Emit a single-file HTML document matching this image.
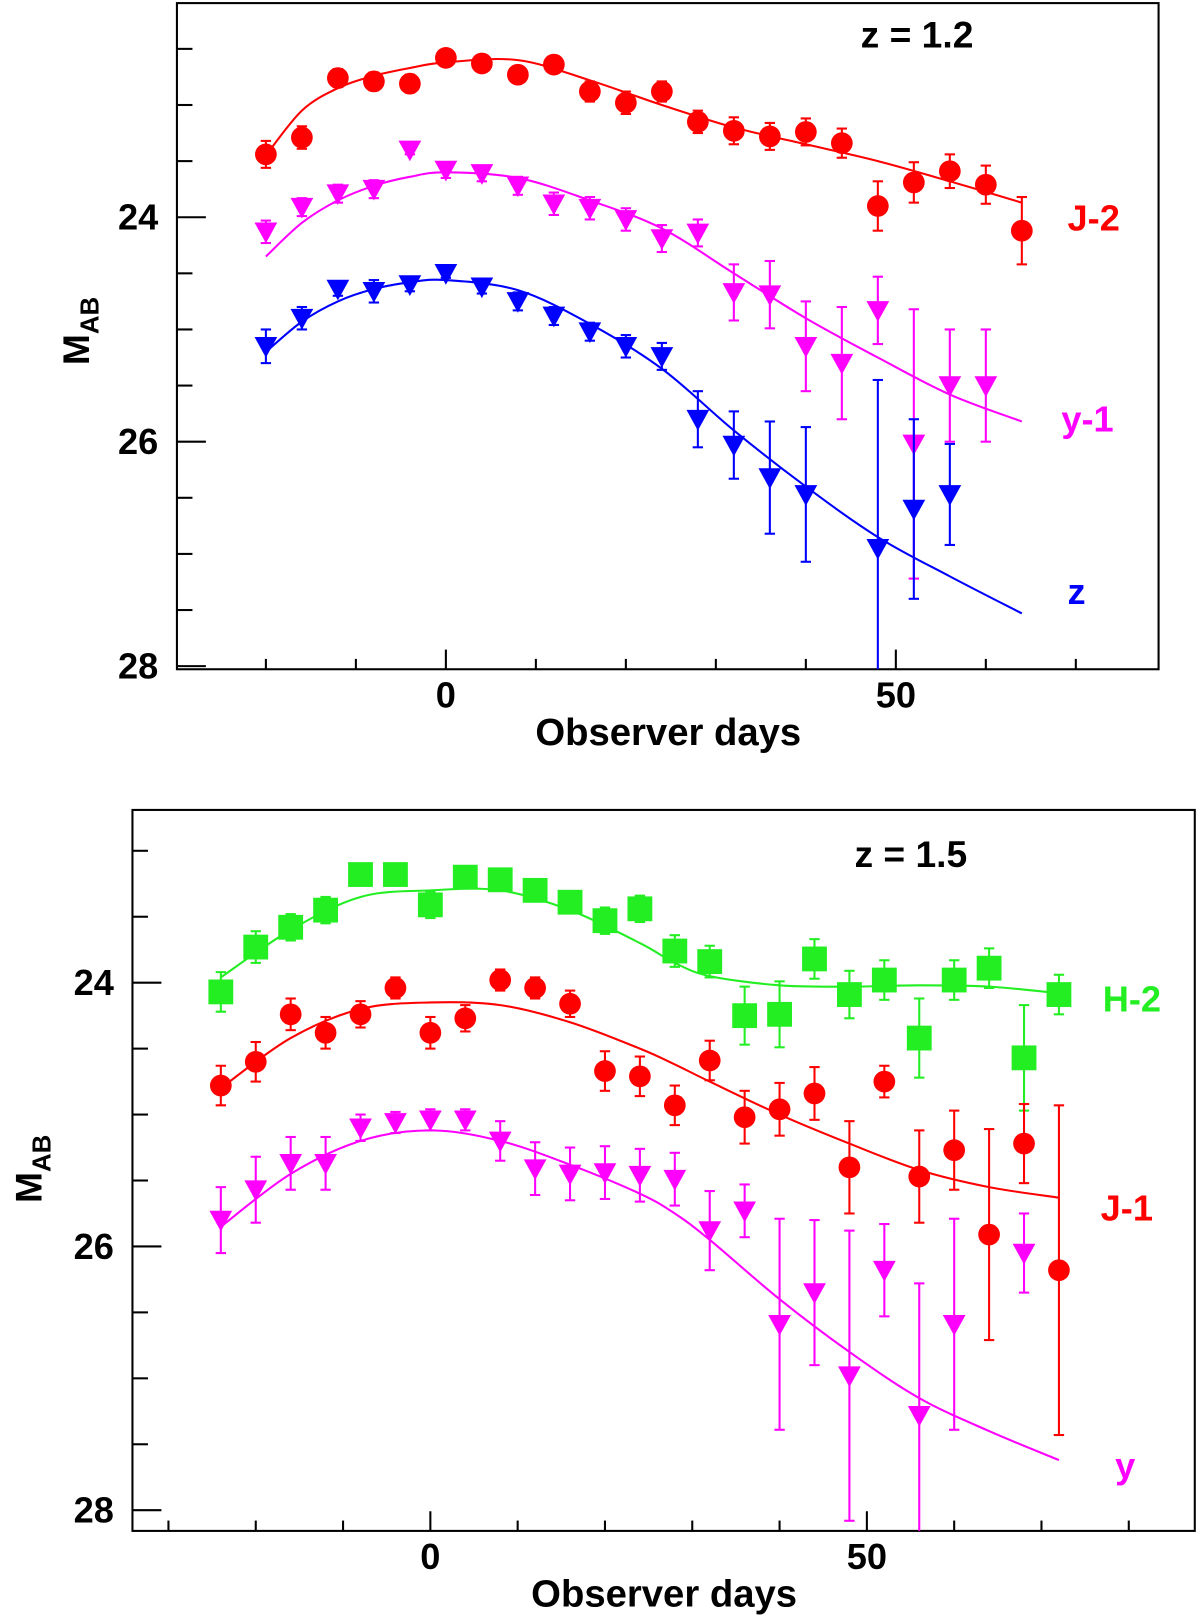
<!DOCTYPE html>
<html><head><meta charset="utf-8"><style>
html,body{margin:0;padding:0;background:#fff}
svg{display:block}
text{font-family:"Liberation Sans",Arial,sans-serif;font-weight:bold}
</style></head><body>
<svg id="chart" width="1200" height="1624" viewBox="0 0 1160 1570" xmlns="http://www.w3.org/2000/svg"></svg>
<script>
// ---------- Top panel (z = 1.2) data ----------
const topRedDays = [-20,-16,-12,-8,-4,0,4,8,12,16,20,24,28,32,36,40,44,48,52,56,60,64];
const topRedMag  = [23.44,23.29,22.76,22.79,22.81,22.58,22.63,22.73,22.64,22.88,22.98,22.88,23.15,23.23,23.28,23.24,23.34,23.90,23.69,23.59,23.71,24.12];
const topRedErr  = [0.12,0.1,0.08,0.08,0.08,0.06,0.06,0.07,0.07,0.09,0.1,0.09,0.1,0.12,0.12,0.12,0.13,0.22,0.18,0.15,0.17,0.3];
const topMagDays = [-20,-16,-12,-8,-4,0,4,8,12,16,20,24,28,32,36,40,44,48,52,56,60];
const topMagMag  = [24.13,23.91,23.79,23.75,23.40,23.58,23.61,23.72,23.88,23.92,24.02,24.19,24.14,24.67,24.69,25.15,25.30,24.83,26.02,25.50,25.50];
const topMagErr  = [0.1,0.08,0.08,0.08,0.04,0.07,0.07,0.08,0.1,0.1,0.1,0.12,0.12,0.25,0.3,0.4,0.5,0.3,1.2,0.5,0.5];
const topBlueDays = [-20,-16,-12,-8,-4,0,4,8,12,16,20,24,28,32,36,40,48,52,56];
const topBlueMag  = [25.15,24.90,24.64,24.66,24.60,24.50,24.62,24.75,24.88,25.02,25.15,25.24,25.80,26.03,26.32,26.47,26.95,26.60,26.47];
const topBlueErr  = [0.15,0.1,0.06,0.1,0.06,0.04,0.06,0.08,0.08,0.08,0.1,0.12,0.25,0.3,0.5,0.6,1.5,0.8,0.45];
const topCurveDays = [-20,-16,-12,-8,-4,0,8,16,24,32,40,48,56,64];
const topRedCurve  = [23.45,23.05,22.85,22.74,22.67,22.62,22.6,22.78,23.0,23.2,23.35,23.5,23.68,23.87];
const topMagCurve  = [24.35,24.05,23.85,23.72,23.64,23.6,23.65,23.85,24.1,24.5,24.9,25.25,25.58,25.82];
const topBlueCurve = [25.2,24.93,24.75,24.64,24.58,24.56,24.65,24.95,25.35,25.9,26.4,26.85,27.2,27.53];
// ---------- Bottom panel (z = 1.5) data ----------
const botDays = [-24,-20,-16,-12,-8,-4,0,4,8,12,16,20,24,28,32,36,40,44,48,52,56,60,64,68,72];
const botGreenMag = [24.07,23.73,23.58,23.45,23.18,23.18,23.41,23.20,23.22,23.30,23.39,23.53,23.44,23.76,23.84,24.25,24.24,23.82,24.09,23.98,24.42,23.98,23.89,24.57,24.09];
const botGreenErr = [0.15,0.12,0.1,0.1,0.07,0.07,0.1,0.07,0.08,0.08,0.08,0.1,0.1,0.12,0.12,0.22,0.25,0.15,0.18,0.15,0.3,0.15,0.15,0.4,0.15];
const botRedMag = [24.78,24.60,24.24,24.38,24.24,24.04,24.38,24.27,23.98,24.04,24.16,24.67,24.71,24.93,24.59,25.02,24.96,24.84,25.40,24.75,25.47,25.27,25.91,25.22,26.18];
const botRedErr = [0.15,0.15,0.12,0.12,0.1,0.08,0.12,0.1,0.08,0.08,0.1,0.15,0.15,0.15,0.15,0.2,0.2,0.2,0.35,0.12,0.35,0.3,0.8,0.3,1.25];
const botMagDays = [-24,-20,-16,-12,-8,-4,0,4,8,12,16,20,24,28,32,36,40,44,48,52,56,60,68];
const botMagMag  = [25.80,25.57,25.37,25.37,25.10,25.06,25.04,25.04,25.20,25.41,25.45,25.44,25.46,25.49,25.88,25.73,26.59,26.35,26.98,26.18,27.28,26.59,26.05];
const botMagErr  = [0.25,0.25,0.2,0.2,0.1,0.08,0.08,0.08,0.15,0.2,0.2,0.2,0.2,0.2,0.3,0.2,0.8,0.55,1.1,0.35,1.0,0.8,0.3];
const botCurveDays = [-24,-16,-8,0,8,16,24,28,32,40,48,56,64,72];
const botGreenCurve = [23.96,23.6,23.35,23.3,23.3,23.45,23.7,23.85,23.95,24.02,24.03,24.02,24.03,24.08];
const botRedCurve   = [24.8,24.42,24.2,24.15,24.17,24.3,24.5,24.62,24.75,25.0,25.22,25.42,25.55,25.63];
const botMagCurve   = [25.85,25.45,25.2,25.12,25.2,25.38,25.6,25.75,25.95,26.4,26.8,27.15,27.4,27.62];

const NS="http://www.w3.org/2000/svg";
const svg=document.getElementById('chart');
function mk(tag,attrs,parent){const e=document.createElementNS(NS,tag);for(const k in attrs)e.setAttribute(k,attrs[k]);(parent||svg).appendChild(e);return e;}

function panel(cfg){
  const g=mk('g',{});
  
  
  const X=d=>cfg.x0+d*cfg.pxDay;
  const Y=m=>cfg.y24+(m-24)*cfg.pxMag;
  const clipId=cfg.name+'-clip';
  const cp=mk('clipPath',{id:clipId},g);
  mk('rect',{x:cfg.L,y:cfg.T,width:cfg.R-cfg.L,height:cfg.B-cfg.T},cp);
  const frame=mk('rect',{x:cfg.L,y:cfg.T,width:cfg.R-cfg.L,height:cfg.B-cfg.T,fill:'none',stroke:'#000','stroke-width':2},g);
  
  
  for(let m=22;m<=28.01;m+=0.5){
    const y=Y(m); if(y<cfg.T+2||y>cfg.B)continue;
    const major=Math.abs(m-Math.round(m/2)*2)<0.01;
    mk('line',{x1:cfg.L,x2:cfg.L+(major?28:15),y1:y,y2:y,stroke:'#000','stroke-width':2},g);
    if(major){const t=mk('text',{x:cfg.L-18,y:y+12,'font-size':35,'text-anchor':'end'},g);t.textContent=m.toFixed(0);
      
      }
  }
  for(let d=-40;d<=100;d+=10){
    const x=X(d); if(x<cfg.L+3||x>cfg.R-3)continue;
    const major=d%50===0;
    mk('line',{x1:x,x2:x,y1:cfg.B,y2:cfg.B-(major?19:10),stroke:'#000','stroke-width':2},g);
    if(major){const t=mk('text',{x:x,y:cfg.B+37,'font-size':35,'text-anchor':'middle'},g);t.textContent=d;
      
      }
  }
  const xt=mk('text',{x:cfg.xlabX,y:cfg.B+73,'font-size':37,'text-anchor':'middle'},g);xt.textContent='Observer days';
  
  
  const yt=mk('text',{transform:`translate(${cfg.ylabX},${cfg.ylabY}) rotate(-90)`,'font-size':36,'text-anchor':'middle'},g);
  yt.innerHTML='M<tspan font-size="25" dy="9">AB</tspan>';
  
  
  const zt=mk('text',{x:cfg.zX,y:cfg.zY,'font-size':36},g);zt.textContent=cfg.zText;
  
  
  const inner=mk('g',{'clip-path':`url(#${clipId})`},g);
  cfg.series.forEach(s=>{
    const sg=mk('g',{},inner);
    
    
    const pts=s.cDays.map((d,i)=>[X(d),Y(s.cMag[i])]);
    let p=`M${pts[0][0]},${pts[0][1]}`;
    for(let i=0;i<pts.length-1;i++){
      const p0=pts[Math.max(0,i-1)],p1=pts[i],p2=pts[i+1],p3=pts[Math.min(pts.length-1,i+2)];
      const c1=[p1[0]+(p2[0]-p0[0])/6,p1[1]+(p2[1]-p0[1])/6];
      const c2=[p2[0]-(p3[0]-p1[0])/6,p2[1]-(p3[1]-p1[1])/6];
      p+=`C${c1[0]},${c1[1]} ${c2[0]},${c2[1]} ${p2[0]},${p2[1]}`;
    }
    const cv=mk('path',{d:p,fill:'none',stroke:s.color,'stroke-width':2},sg);
    
    
    s.days.forEach((d,i)=>{
      const x=X(d),y=Y(s.mag[i]),e=s.err[i]*cfg.pxMag;
      mk('line',{x1:x,x2:x,y1:y-e,y2:y+e,stroke:s.color,'stroke-width':2},sg);
      mk('line',{x1:x-5,x2:x+5,y1:y-e,y2:y-e,stroke:s.color,'stroke-width':2},sg);
      mk('line',{x1:x-5,x2:x+5,y1:y+e,y2:y+e,stroke:s.color,'stroke-width':2},sg);
      let m;
      if(s.shape==='circle') m=mk('circle',{cx:x,cy:y,r:10.5,fill:s.color},sg);
      else if(s.shape==='square') m=mk('rect',{x:x-12,y:y-12,width:24,height:24,fill:s.color},sg);
      else m=mk('polygon',{points:`${x-11},${y-9} ${x+11},${y-9} ${x},${y+11}`,fill:s.color},sg);
      
      
    });
  });
  cfg.series.forEach(s=>{
    const t=mk('text',{x:s.lx,y:s.ly,'font-size':35,fill:s.color},g);t.textContent=s.label;
    
    
  });
}
panel({name:'top-panel',L:171,R:1120,T:3,B:647,x0:431,pxDay:8.7,y24:210,pxMag:108.5,xlabX:646,ylabX:86,ylabY:320,zText:'z = 1.2',zX:832,zY:46,
  series:[
   {key:'j-2',color:'#ff0000',shape:'circle',days:topRedDays,mag:topRedMag,err:topRedErr,cDays:topCurveDays,cMag:topRedCurve,label:'J-2',lx:1032,ly:223},
   {key:'y-1',color:'#ff00ff',shape:'tri',days:topMagDays,mag:topMagMag,err:topMagErr,cDays:topCurveDays,cMag:topMagCurve,label:'y-1',lx:1026,ly:417},
   {key:'z',color:'#0000ff',shape:'tri',days:topBlueDays,mag:topBlueMag,err:topBlueErr,cDays:topCurveDays,cMag:topBlueCurve,label:'z',lx:1032,ly:584}]});
panel({name:'bottom-panel',L:128,R:1155,T:783,B:1480,x0:416,pxDay:8.44,y24:950,pxMag:127.5,xlabX:642,ylabX:40,ylabY:1130,zText:'z = 1.5',zX:826,zY:838,
  series:[
   {key:'h-2',color:'#22ee22',shape:'square',days:botDays,mag:botGreenMag,err:botGreenErr,cDays:botCurveDays,cMag:botGreenCurve,label:'H-2',lx:1066,ly:978},
   {key:'j-1',color:'#ff0000',shape:'circle',days:botDays,mag:botRedMag,err:botRedErr,cDays:botCurveDays,cMag:botRedCurve,label:'J-1',lx:1064,ly:1180},
   {key:'y',color:'#ff00ff',shape:'tri',days:botMagDays,mag:botMagMag,err:botMagErr,cDays:botCurveDays,cMag:botMagCurve,label:'y',lx:1078,ly:1429}]});
</script>
</body></html>
